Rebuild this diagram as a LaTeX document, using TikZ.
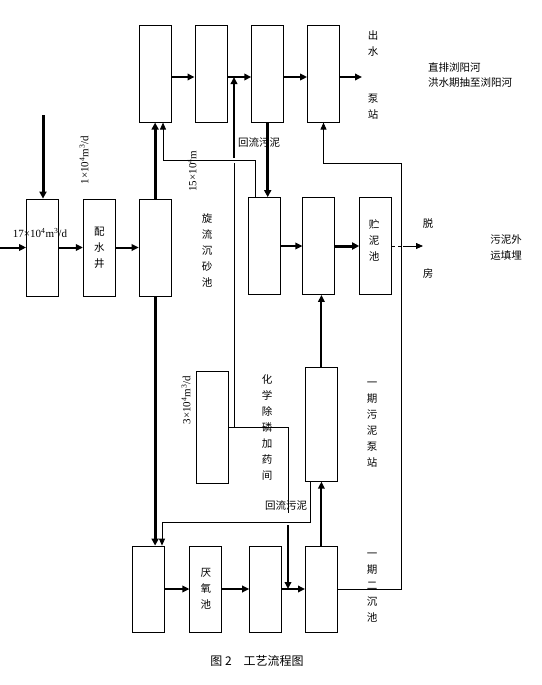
\documentclass[tikz,border=0pt]{standalone}
\usepackage{fontspec}
\setmainfont{Liberation Serif}
\newfontfamily\cjk{Noto Sans CJK SC}
\usetikzlibrary{arrows.meta, positioning, calc}
\tikzstyle{block} = [rectangle, draw, line width=0.8pt, minimum width=32pt, minimum height=97pt, inner sep=0pt]
\tikzstyle{flow} = [line width=2pt, -{Triangle[length=7pt,width=6.5pt]}]
\tikzstyle{mainflow} = [line width=3pt, -{Triangle[length=7pt,width=7pt]}]
\tikzstyle{link} = [line width=0.8pt]
\tikzstyle{linkflow} = [line width=0.8pt, -{Triangle[length=7pt,width=6pt]}]
\tikzstyle{vlabel} = [font=\cjk\fontsize{10.5}{16}\selectfont, align=center, inner sep=0pt]
\tikzstyle{cjklabel} = [font=\cjk\fontsize{10.5}{15}\selectfont, inner sep=0pt]
\tikzstyle{qlabel} = [font=\fontsize{11}{13}\selectfont, inner sep=0pt]

\begin{document}
\begin{tikzpicture}[x=1pt, y=-1pt]
	\useasboundingbox (0,0) rectangle (541,685);

	% Middle row
	\node (m0) [block] at (42.5,247.5) {};
	\node (m1) [block, right=24pt of m0] {};
	\node (m2) [block, right=23pt of m1] {};
	\node (m3) [block] at (264,246) {};
	\node (m4) [block, right=22pt of m3] {};
	\node (m5) [block, right=24pt of m4] {};

	% Top row
	\node (t1) [block, above=76pt of m2] {};
	\node (t2) [block, right=23pt of t1] {};
	\node (t3) [block, right=24pt of t2] {};
	\node (t4) [block, right=23pt of t3] {};

	% Bottom row
	\node (b1) [block, minimum height=86pt] at (148,589) {};
	\node (b2) [block, minimum height=86pt, right=25pt of b1] {};
	\node (b3) [block, minimum height=86pt, right=27pt of b2] {};
	\node (b4) [block, minimum height=86pt, right=23pt of b3] {};
	\node (pump) [block, minimum height=114pt, above=64pt of b4] {};
	\node (chem) [block, minimum height=112pt] at (212,427) {};

	% Free ends and corners
	\coordinate (inlet) at (0,247.5);
	\coordinate (feed) at (43,115);
	\coordinate (toplevel) at (0,77);
	\coordinate (outlet) at (362,77);
	\coordinate (dosetop) at (234,158);
	\coordinate (dosemid) at (234,163);
	\coordinate (dosecut) at (288,513);
	\coordinate (dosein) at (288,525);
	\coordinate (grit) at ($(m3.north west)+(8,0)$);
	\coordinate (gritturn) at (163,160);
	\coordinate (retturn) at (401,163);
	\coordinate (press) at (403,246);
	\coordinate (cake) at (423,246);
	\coordinate (rsout) at ($(pump.south west)+(5,0)$);
	\coordinate (rsturn) at (162,522);

	% Arrows - inflow
	\draw[flow] (inlet) -- (m0.west);
	\draw[mainflow] (feed) -- (feed |- m0.north);
	\draw[flow] (m0) -- (m1);
	\draw[flow] (m1) -- (m2);
	\draw[mainflow] (m2.north) -- (m2.north |- t1.south);
	\draw[mainflow] (m2.south) -- (m2.south |- b1.north);

	% Arrows - top row
	\draw[flow] (t1.east |- toplevel) -- (t2.west |- toplevel);
	\draw[flow] (t2.east |- toplevel) -- (t3.west |- toplevel);
	\draw[flow] (t3.east |- toplevel) -- (t4.west |- toplevel);
	\draw[flow] (t4.east |- toplevel) -- (outlet);
	\draw[mainflow] (t3.south) -- (t3.south |- m3.north);
	\draw[linkflow] (grit) |- (gritturn) -- (gritturn |- t1.south);

	% Arrows - sludge line
	\draw[flow] (m3) -- (m4);
	\draw[mainflow] (m4) -- (m5);
	\draw[link, dashed] (m5.east) -- (press);
	\draw[linkflow] (press) -- (cake);
	\draw[flow] (pump.north) -- (pump.north |- m4.south);
	\draw[flow] (b4.north) -- (b4.north |- pump.south);

	% Arrows - bottom row
	\draw[flow] (b1) -- (b2);
	\draw[flow] (b2) -- (b3);
	\draw[flow] (b3) -- (b4);
	\draw[linkflow] (rsout) |- (rsturn) -- (rsturn |- b1.north);
	\draw[linkflow] (b4.east) -| (retturn) -| (t4.south);

	% Chemical dosing
	\draw[flow] (dosetop) -- (dosetop |- toplevel);
	\draw[link] (dosemid) -- (dosemid |- chem.east);
	\draw[link] (chem.east) -| (dosecut);
	\draw[flow] (dosein) -- (dosein |- b3);

	% Flow rates
	\node (q17) [qlabel] at (40,233) {17×10\textsuperscript{4}m\textsuperscript{3}/d};
	\node (q1) [qlabel, rotate=90] at (84,160) {1×10\textsuperscript{4}m\textsuperscript{3}/d};
	\node (q15) [qlabel, rotate=90] at (192,171) {15×10\textsuperscript{4}m};
	\node (q3) [qlabel, rotate=90] at (186,400) {3×10\textsuperscript{4}m\textsuperscript{3}/d};

	% Labels
	\node (lpsj) [vlabel] at (m1) {配\\水\\井};
	\node (lxl) [vlabel] at (207,250) {旋\\流\\沉\\砂\\池};
	\node (lzn) [vlabel] at (374,240) {贮\\泥\\池};
	\node (lhl1) [cjklabel] at (259,143) {回流污泥};
	\node (lcs) [vlabel] at (373,44) {出\\水};
	\node (lbz) [vlabel] at (373,107) {泵\\站};
	\node (lpf) [cjklabel, align=left, anchor=north west] at (428,62) {直排浏阳河\\洪水期抽至浏阳河};
	\node (ltuo) [cjklabel] at (428,224) {脱};
	\node (lfang) [cjklabel] at (428,273) {房};
	\node (lwn) [vlabel] at (506,248) {污泥外\\运填埋};
	\node (lchem) [vlabel] at (267,428) {化\\学\\除\\磷\\加\\药\\间};
	\node (lpump) [vlabel] at (372,425) {一\\期\\污\\泥\\泵\\站};
	\node (lhl2) [cjklabel] at (286,506) {回流污泥};
	\node (lyy) [vlabel] at (b2) {厌\\氧\\池};
	\node (lec) [vlabel] at (372,588) {一\\期\\二\\沉\\池};
	\node (cap) [cjklabel, font=\cjk\fontsize{12}{14}\selectfont] at (257,661) {图 2\quad 工艺流程图};

\end{tikzpicture}
\end{document}
